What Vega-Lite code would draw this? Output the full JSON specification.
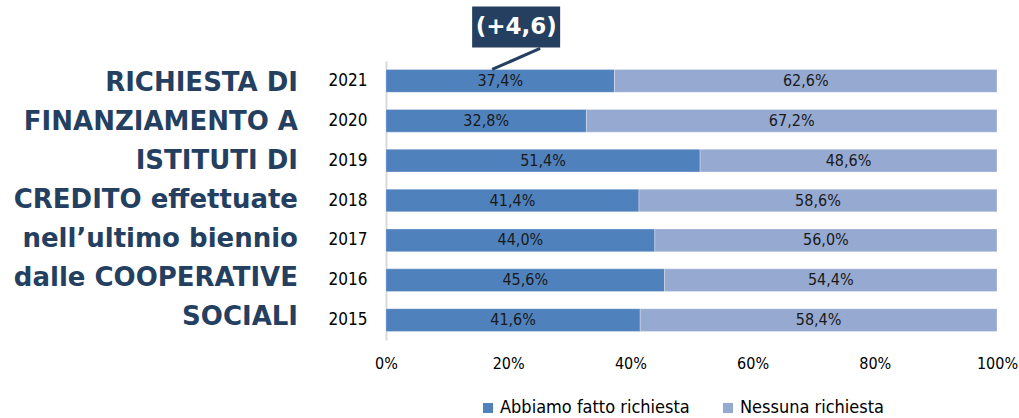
{
  "$schema": "https://vega.github.io/schema/vega-lite/v6.json",
  "width": 611,
  "height": 279,
  "autosize": {"type": "none"},
  "padding": {"left": 386, "top": 61, "right": 22, "bottom": 78},
  "background": "white",
  "config": {
    "view": {"stroke": null},
    "locale": {"number": {"decimal": ",", "thousands": ".", "grouping": [3], "currency": ["€", ""]}},
    "font": "DejaVu Sans Condensed"
  },
  "title": {
    "text": ["RICHIESTA DI", "FINANZIAMENTO A", "ISTITUTI DI", "CREDITO effettuate", "nell’ultimo biennio", "dalle COOPERATIVE", "SOCIALI"],
    "orient": "top",
    "anchor": "start",
    "frame": "group",
    "align": "right",
    "baseline": "top",
    "offset": 0,
    "dx": -88,
    "dy": 324,
    "font": "DejaVu Sans",
    "fontSize": 26,
    "fontWeight": "bold",
    "color": "#243F60",
    "lineHeight": 39
  },
  "data": {
    "values": [
      {"year": "2021", "cat": "Abbiamo fatto richiesta", "ord": 1, "pct": 37.4},
      {"year": "2021", "cat": "Nessuna richiesta", "ord": 2, "pct": 62.6},
      {"year": "2020", "cat": "Abbiamo fatto richiesta", "ord": 1, "pct": 32.8},
      {"year": "2020", "cat": "Nessuna richiesta", "ord": 2, "pct": 67.2},
      {"year": "2019", "cat": "Abbiamo fatto richiesta", "ord": 1, "pct": 51.4},
      {"year": "2019", "cat": "Nessuna richiesta", "ord": 2, "pct": 48.6},
      {"year": "2018", "cat": "Abbiamo fatto richiesta", "ord": 1, "pct": 41.4},
      {"year": "2018", "cat": "Nessuna richiesta", "ord": 2, "pct": 58.6},
      {"year": "2017", "cat": "Abbiamo fatto richiesta", "ord": 1, "pct": 44.0},
      {"year": "2017", "cat": "Nessuna richiesta", "ord": 2, "pct": 56.0},
      {"year": "2016", "cat": "Abbiamo fatto richiesta", "ord": 1, "pct": 45.6},
      {"year": "2016", "cat": "Nessuna richiesta", "ord": 2, "pct": 54.4},
      {"year": "2015", "cat": "Abbiamo fatto richiesta", "ord": 1, "pct": 41.6},
      {"year": "2015", "cat": "Nessuna richiesta", "ord": 2, "pct": 58.4}
    ]
  },
  "transform": [
    {"stack": "pct", "groupby": ["year"], "sort": [{"field": "ord", "order": "ascending"}], "as": ["x0", "x1"]},
    {"calculate": "(datum.x0 + datum.x1) / 2", "as": "mid"},
    {"calculate": "datum.pct / 100", "as": "frac"}
  ],
  "encoding": {
    "y": {
      "field": "year",
      "type": "ordinal",
      "sort": "descending",
      "scale": {"paddingInner": 0.43, "paddingOuter": 0.215},
      "axis": {
        "title": null,
        "ticks": false,
        "domainColor": "#d9d9d9",
        "domainWidth": 2,
        "labelPadding": 19,
        "labelFontSize": 17,
        "labelColor": "#000000",
        "labelFont": "DejaVu Sans Condensed"
      }
    }
  },
  "layer": [
    {
      "mark": {"type": "bar", "stroke": "#ffffff", "strokeWidth": 0.5, "strokeOpacity": 0.6},
      "encoding": {
        "x": {
          "field": "x0",
          "type": "quantitative",
          "scale": {"domain": [0, 100], "nice": false},
          "axis": {
            "title": null,
            "values": [0, 20, 40, 60, 80, 100],
            "labelExpr": "datum.value + '%'",
            "labelFlush": false,
            "domain": false,
            "ticks": false,
            "grid": false,
            "labelPadding": 15,
            "labelFontSize": 16,
            "labelColor": "#000000",
            "labelFont": "DejaVu Sans Condensed"
          }
        },
        "x2": {"field": "x1"},
        "color": {
          "field": "cat",
          "type": "nominal",
          "sort": ["Abbiamo fatto richiesta", "Nessuna richiesta"],
          "scale": {"domain": ["Abbiamo fatto richiesta", "Nessuna richiesta"], "range": ["#4F81BD", "#95A9D1"]},
          "legend": {
            "title": null,
            "orient": "none",
            "direction": "horizontal",
            "legendX": 93,
            "legendY": 338,
            "symbolType": "square",
            "symbolSize": 100,
            "symbolStrokeWidth": 0,
            "labelFontSize": 18,
            "labelLimit": 400,
            "labelColor": "#000000",
            "labelFont": "DejaVu Sans Condensed",
            "labelOffset": 3,
            "columnPadding": 29
          }
        }
      }
    },
    {
      "mark": {"type": "text", "fontSize": 16, "color": "#1a1a1a", "font": "DejaVu Sans Condensed"},
      "encoding": {
        "x": {"field": "mid", "type": "quantitative"},
        "text": {"field": "frac", "type": "quantitative", "format": ".1%"}
      }
    },
    {
      "data": {"values": [{"year": "2021", "pos": 21.3, "label": "(+4,6)"}]},
      "layer": [
        {
          "mark": {"type": "point", "shape": "M-0.48,0.21L0.48,-0.21", "size": 10000, "filled": false, "stroke": "#243F60", "strokeWidth": 3, "yOffset": -22, "opacity": 1},
          "encoding": {"x": {"field": "pos", "type": "quantitative"}}
        },
        {
          "mark": {"type": "point", "shape": "M-1,-0.466H1V0.466H-1Z", "size": 7744, "filled": true, "color": "#243F60", "yOffset": -54, "opacity": 1},
          "encoding": {"x": {"field": "pos", "type": "quantitative"}}
        },
        {
          "mark": {"type": "text", "font": "DejaVu Sans", "fontWeight": "bold", "fontSize": 23, "color": "#ffffff", "dy": -54},
          "encoding": {"x": {"field": "pos", "type": "quantitative"}, "text": {"field": "label"}}
        }
      ]
    }
  ]
}
